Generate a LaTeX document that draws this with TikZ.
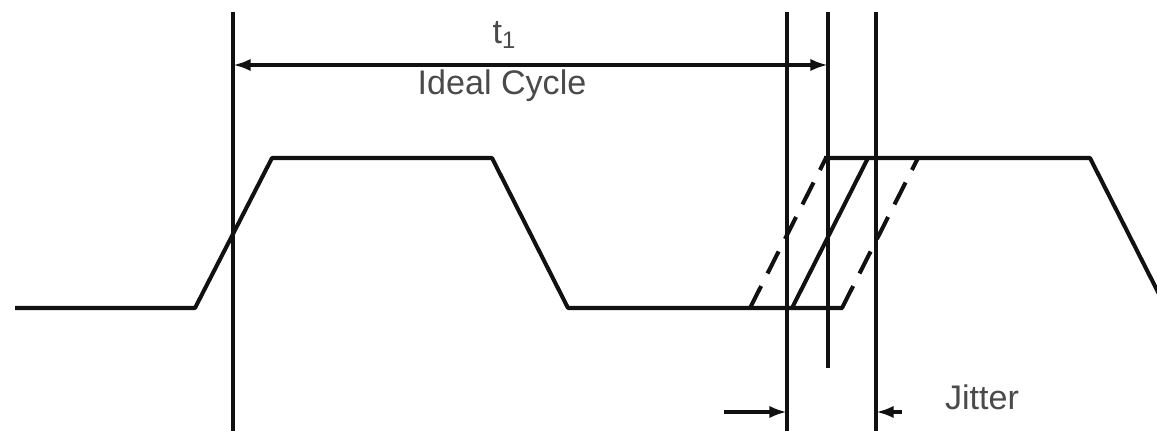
\documentclass[tikz,border=0pt]{standalone}
\usepackage{fontspec}
\setmainfont{Liberation Sans}
\usetikzlibrary{arrows.meta,positioning}
\definecolor{cInk}{HTML}{111111}
\definecolor{cText}{HTML}{4A4A4A}
\tikzset{
  sig/.style={line width=1.15pt,color=cInk,line join=round},
  ghost/.style={sig,dash pattern=on 7pt off 4pt},
  vbar/.style={line width=#1,color=cInk},
  vbar/.default=1.15pt,
  dimarr/.style={{Latex[length=5pt,width=3.5pt]}-{Latex[length=5pt,width=3.5pt]},line width=1.15pt,color=cInk},
  jitarr/.style={-{Latex[length=5pt,width=3.5pt]},line width=1.15pt,color=cInk},
  lbl/.style={font=\fontsize{9.7}{11}\selectfont,text=cText,inner sep=1pt},
}

\begin{document}
\begin{tikzpicture}[x=0.01cm,y=-0.01cm]
  \useasboundingbox (0,0) rectangle (1157,431);
  % time markers
  \coordinate (t1L) at (233,65);
  \coordinate (t1R) at (828,65);
  \draw[vbar] (233,12) -- (233,431);
  \draw[vbar=0.9pt] (787,12) -- (787,431);
  \draw[vbar] (828,12) -- (828,368);
  \draw[vbar] (876,12) -- (876,431);
  % ideal cycle
  \draw[dimarr] (t1L) -- (t1R);
  \node[lbl] (t1) at (505,35) {t\textsubscript{1}};
  \node[lbl] (ideal) at (502,86) {Ideal Cycle};
  % waveform
  \draw[sig] (15,308) -- (195,308) -- (272,158) -- (492,158) -- (568,308) -- (843,308);
  \draw[sig] (792,308) -- (868,158);
  \draw[sig] (824,158) -- (1090,158) -- (1160,296);
  \draw[ghost] (750,308) -- (826,158);
  \draw[ghost] (842,308) -- (918,158);
  % jitter
  \coordinate (jL) at (787,412);
  \coordinate (jR) at (876,412);
  \draw[jitarr] (724,412) -- (jL);
  \draw[jitarr] (902,412) -- (jR);
  \node[lbl] (jit) at (982,397) {Jitter};
\end{tikzpicture}
\end{document}
